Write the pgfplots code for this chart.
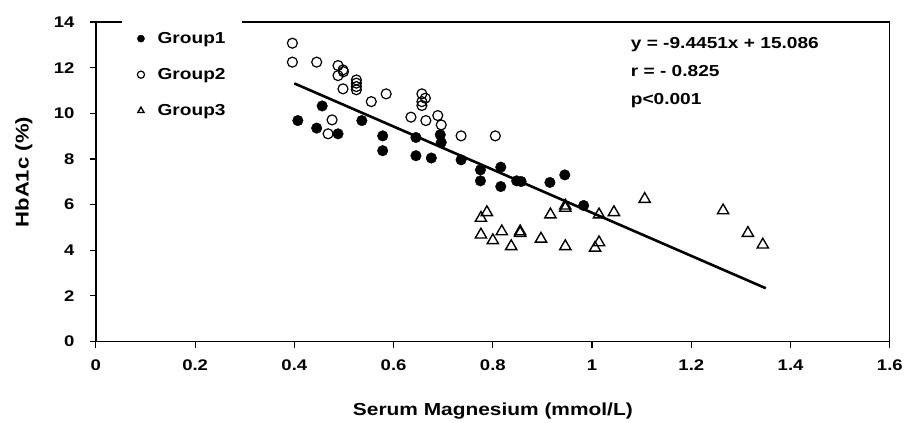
\documentclass[border=0pt]{standalone}
\usepackage{fontspec}
\setmainfont{Liberation Sans}[FakeStretch=1.2]
\usepackage{pgfplots}
\pgfplotsset{compat=1.18}

\begin{document}
\begin{tikzpicture}
\begin{axis}[
    scale only axis,
    width=795bp, height=320bp,
    xmin=0, xmax=1.6,
    ymin=0, ymax=14,
    xtick={0,0.2,0.4,0.6,0.8,1,1.2,1.4,1.6},
    ytick={0,2,4,6,8,10,12,14},
    /pgf/number format/assume math mode=true,
    tick align=outside,
    xtick pos=bottom, ytick pos=left,
    major tick length=6bp,
    every tick/.style={black, line width=1.2bp},
    axis line style={line width=1.3bp},
    tick label style={font=\bfseries\fontsize{15.5}{18}\selectfont},
    xticklabel style={yshift=-9bp},
    yticklabel style={xshift=-12bp},
    xlabel={Serum Magnesium (mmol/L)},
    ylabel={HbA1c (\%)},
    xlabel style={font=\bfseries\fontsize{17.5}{20}\selectfont,
        at={(axis description cs:0.5,0)}, anchor=center, yshift=-70bp},
    ylabel style={font=\bfseries\fontsize{18.5}{21}\selectfont,
        at={(axis description cs:0,0.53)}, anchor=center, yshift=72bp},
    legend style={at={(0.033,1.012)}, anchor=north west, fill=white, draw=none,
        font=\bfseries\fontsize{16}{19}\selectfont, row sep=19.5bp,
        inner xsep=14bp, inner ysep=12bp},
    legend cell align=left,
    legend image code/.code={\draw[#1, mark size=3.6bp] plot coordinates {(0bp,0bp)};
        \path (-4bp,0bp) (14bp,0bp);},
]

% regression line y = -9.4451x + 15.086
\addplot[black, line width=2.6bp, forget plot] coordinates {(0.40,11.308) (1.35,2.335)};

\addplot[only marks, mark=*, mark size=5.3bp, black, fill=black] coordinates {
    (0.407,9.68) (0.445,9.35) (0.456,10.32) (0.488,9.10) (0.536,9.68)
    (0.578,9.01) (0.578,8.36) (0.645,8.94) (0.645,8.14) (0.676,8.04)
    (0.694,9.06) (0.696,8.72) (0.736,7.96) (0.775,7.52) (0.775,7.04)
    (0.816,7.64) (0.816,6.79) (0.848,7.04) (0.857,7.01) (0.915,6.97)
    (0.945,7.30) (0.983,5.96)
};
\addlegendentry{Group1}

\addplot[only marks, mark=o, mark size=5bp, black, line width=1.2bp] coordinates {
    (0.396,13.07) (0.396,12.24) (0.445,12.24) (0.488,12.09) (0.488,11.65)
    (0.498,11.90) (0.499,11.82) (0.498,11.07) (0.476,9.71) (0.468,9.10)
    (0.525,11.46) (0.525,11.32) (0.525,11.17) (0.525,11.03) (0.555,10.51)
    (0.585,10.85) (0.635,9.83) (0.657,10.85) (0.664,10.66) (0.657,10.51)
    (0.657,10.34) (0.665,9.68) (0.689,9.90) (0.696,9.49) (0.736,9.01)
    (0.805,9.01)
};
\addlegendentry{Group2}

\addplot[only marks, mark=triangle, mark size=6.5bp, black, line width=1.4bp] coordinates {
    (0.776,5.41) (0.788,5.66) (0.776,4.68) (0.800,4.43) (0.818,4.82)
    (0.837,4.17) (0.855,4.82) (0.855,4.75) (0.897,4.50) (0.916,5.56)
    (0.946,5.95) (0.946,5.85) (0.946,4.17) (1.014,5.56) (1.014,4.34)
    (1.006,4.10) (1.044,5.66) (1.106,6.24) (1.264,5.74) (1.314,4.75)
    (1.344,4.24)
};
\addlegendentry{Group3}

\node[anchor=base west, font=\bfseries\fontsize{16}{19}\selectfont] at (axis cs:1.071,12.82) {y = -9.4451x + 15.086};
\node[anchor=base west, font=\bfseries\fontsize{16}{19}\selectfont] at (axis cs:1.071,11.59) {r = - 0.825};
\node[anchor=base west, font=\bfseries\fontsize{16}{19}\selectfont] at (axis cs:1.071,10.37) {p<0.001};

\coordinate (ll) at (rel axis cs:0,0);
\coordinate (ur) at (rel axis cs:1,1);
\end{axis}
\path ([shift={(-96bp,-79bp)}]ll) rectangle ([shift={(15bp,22bp)}]ur);
\end{tikzpicture}
\end{document}
